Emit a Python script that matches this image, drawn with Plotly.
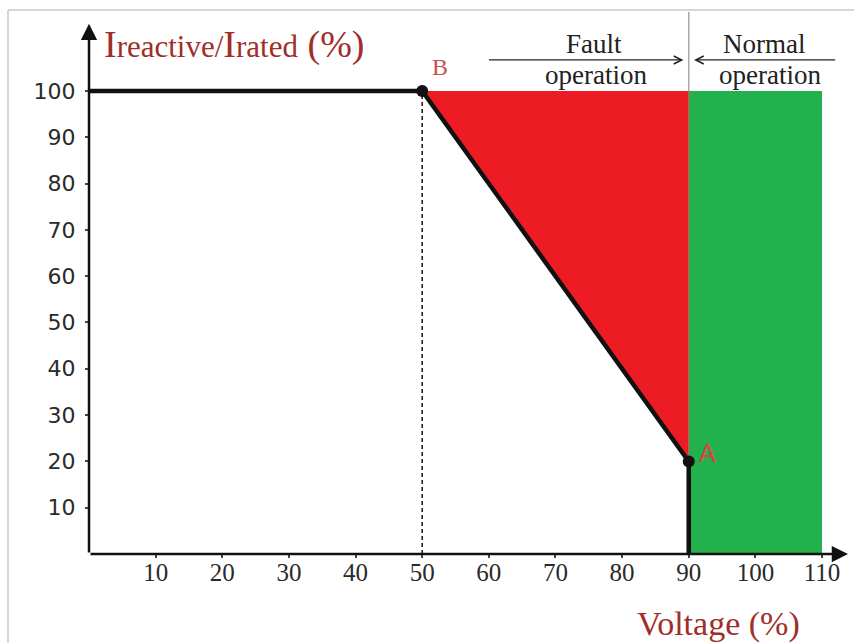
import plotly.graph_objects as go

# ---- data ----
x_ticks = [10, 20, 30, 40, 50, 60, 70, 80, 90, 100, 110]
y_ticks = [10, 20, 30, 40, 50, 60, 70, 80, 90, 100]
curve_v = [0, 50, 90, 90]          # voltage (%)
curve_i = [100, 100, 20, 0]        # Ireactive/Irated (%)
fault_v = [50, 90, 90]
fault_i = [100, 100, 20]
normal_v = [90, 110, 110, 90]
normal_i = [0, 0, 100, 100]
point_names = ["B", "A"]
point_v = [50, 90]
point_i = [100, 20]

# ---- layout geometry ----
FW, FH = 854, 643
ML, MR, MT, MB = 89, 2, 3, 89
XMAX, YMAX = 114.5, 119
PW, PH = FW - ML - MR, FH - MT - MB


def pxx(p):
    return (p - ML) / PW


def pxy(p):
    return (FH - MB - p) / PH


fig = go.Figure()

fig.add_trace(go.Scatter(x=normal_v, y=normal_i, fill="toself", mode="none",
                         fillcolor="#22B14C", hoverinfo="skip", showlegend=False))
fig.add_trace(go.Scatter(x=fault_v, y=fault_i, fill="toself", mode="none",
                         fillcolor="#ED1C24", hoverinfo="skip", showlegend=False))
# dashed drop line from B
fig.add_trace(go.Scatter(x=[point_v[0], point_v[0]], y=[0, point_i[0]], mode="lines",
                         line=dict(color="#111", width=1.5, dash="4px,3px"),
                         hoverinfo="skip", showlegend=False))
# grey boundary line at 90 %
fig.add_shape(type="line", xref="x", yref="paper", x0=90, x1=90,
              y0=pxy(91), y1=pxy(12), line=dict(color="#A8A8A8", width=1.5))
# main characteristic
fig.add_trace(go.Scatter(x=curve_v, y=curve_i, mode="lines",
                         line=dict(color="#111", width=4.5),
                         hoverinfo="skip", showlegend=False))
fig.add_trace(go.Scatter(x=point_v, y=point_i, mode="markers",
                         marker=dict(color="#111", size=12),
                         hoverinfo="skip", showlegend=False))


def txt(px, py, text, size, color, family="Liberation Serif", xanchor="center"):
    return dict(x=pxx(px), y=pxy(py), xref="paper", yref="paper", text=text,
                xanchor=xanchor, yanchor="middle", showarrow=False,
                font=dict(family=family, size=size, color=color))


ann = []
# axes with arrows
ann.append(dict(x=0, y=114.5, ax=0, ay=0, xref="x", yref="y", axref="x", ayref="y",
                text="", showarrow=True, arrowhead=2, arrowsize=1.3, arrowwidth=2.5,
                arrowcolor="#111"))
ann.append(dict(x=113.9, y=0, ax=0, ay=0, xref="x", yref="y", axref="x", ayref="y",
                text="", showarrow=True, arrowhead=2, arrowsize=1.3, arrowwidth=2.5,
                arrowcolor="#111"))
# point labels
ann.append(txt(440, 67, point_names[0], 24, "#C8504A"))
ann.append(txt(707, 453, point_names[1], 25, "#E04040", family="Liberation Sans"))
# operation region arrows
ann.append(dict(x=89.2, y=106.7, ax=59.8, ay=106.7, xref="x", yref="y", axref="x", ayref="y",
                text="", showarrow=True, arrowhead=5, arrowsize=1.2, arrowwidth=1.3,
                arrowcolor="#222"))
ann.append(dict(x=90.8, y=106.7, ax=112.2, ay=106.7, xref="x", yref="y", axref="x", ayref="y",
                text="", showarrow=True, arrowhead=5, arrowsize=1.2, arrowwidth=1.3,
                arrowcolor="#222"))
ann.append(txt(594, 44, "Fault", 27, "#222"))
ann.append(txt(596, 75, "operation", 27, "#222"))
ann.append(txt(764, 44, "Normal", 27, "#222"))
ann.append(txt(770, 75, "operation", 27, "#222"))
# axis titles
ann.append(txt(102, 45,
               ("<span style='font-size:38px'>I</span>reactive/"
                "<span style='font-size:38px'>I</span>rated"
                "<span style='font-size:38px'> (%)</span>"),
               31, "#A02E29", xanchor="left"))
ann.append(txt(718, 624, "Voltage (%)", 34, "#A02E29"))

# outer frame (top and left edges)
shapes = [
    dict(type="line", xref="paper", yref="paper", x0=pxx(8), x1=pxx(854), y0=pxy(10), y1=pxy(10),
         line=dict(color="#C8C8C8", width=1.5)),
    dict(type="line", xref="paper", yref="paper", x0=pxx(8), x1=pxx(8), y0=pxy(10), y1=pxy(643),
         line=dict(color="#C8C8C8", width=1.5)),
]
for s in shapes:
    fig.add_shape(**s)

fig.update_layout(
    width=FW, height=FH, autosize=False,
    margin=dict(l=ML, r=MR, t=MT, b=MB),
    paper_bgcolor="white", plot_bgcolor="white",
    annotations=ann,
    xaxis=dict(range=[0, XMAX], tickvals=x_ticks, ticktext=[str(v) for v in x_ticks],
               showgrid=False, zeroline=False, showline=False,
               ticks="outside", ticklen=3, tickwidth=1.5, tickcolor="#444",
               ticklabelstandoff=-7,
               tickfont=dict(family="Liberation Serif", size=25, color="#2a2a2a")),
    yaxis=dict(range=[0, YMAX], tickvals=y_ticks, ticktext=[str(v) for v in y_ticks],
               showgrid=False, zeroline=False, showline=False,
               ticks="outside", ticklen=3, tickwidth=1.5, tickcolor="#444",
               ticklabelstandoff=5,
               tickfont=dict(family="DejaVu Sans", size=22, color="#2a2a2a")),
)

fig.write_html("out.html", config={"displayModeBar": False},
               post_script="document.body.style.margin='0';")
